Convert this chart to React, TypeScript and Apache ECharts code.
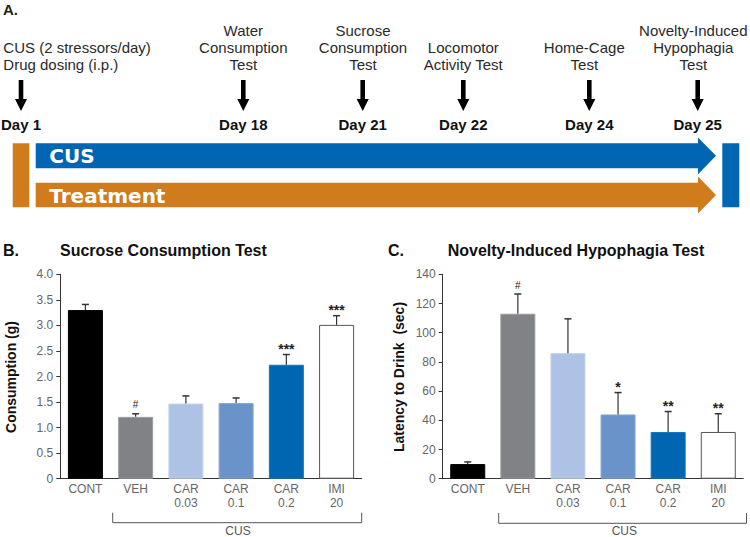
import React, { useEffect, useRef } from "react";
import * as echarts from "echarts";

// ---- Data ----
const categories = ["CONT", "VEH", "CAR\n0.03", "CAR\n0.1", "CAR\n0.2", "IMI\n20"];
const sucroseMean = [3.3, 1.21, 1.47, 1.48, 2.23, 3.01];
const sucroseSem = [0.11, 0.06, 0.15, 0.1, 0.2, 0.18];
const sucroseSig = ["", "#", "", "", "***", "***"];
const latencyMean = [10, 113, 86, 44, 32, 32];
const latencySem = [1.5, 13.5, 23.5, 15, 14, 12.5];
const latencySig = ["", "#", "", "*", "**", "**"];

const timelineLabels = [
  "CUS (2 stressors/day)\nDrug dosing (i.p.)",
  "Water\nConsumption\nTest",
  "Sucrose\nConsumption\nTest",
  "Locomotor\nActivity Test",
  "Home-Cage\nTest",
  "Novelty-Induced\nHypophagia\nTest",
];
const timelineDays = ["Day 1", "Day 18", "Day 21", "Day 22", "Day 24", "Day 25"];

// ---- Layout / style (kept apart from data) ----
const arrowX = [21, 243.3, 362.7, 463.3, 589.3, 697.7];
const labelX = [3.3, 243.3, 363, 463.3, 584.3, 693.3];
const barColors = ["#000000", "#808285", "#adc2e4", "#6a93ca", "#0066b2", "#ffffff"];
const barBorders = ["#000000", "#9a9c9e", "#c2d2ea", "#85a6d4", "#1a74b8", "#555555"];
const BLUE = "#0066b3";
const ORANGE = "#d07b1c";
const FONT = "Liberation Sans";

function downArrow(x: number) {
  return {
    type: "polygon",
    shape: {
      points: [
        [x - 2.3, 80],
        [x + 2.3, 80],
        [x + 2.3, 99],
        [x + 6, 99],
        [x, 111],
        [x - 6, 99],
        [x - 2.3, 99],
      ],
    },
    style: { fill: "#000" },
  };
}

function bigArrow(y0: number, y1: number, color: string) {
  const cy = (y0 + y1) / 2;
  const headBase = 698;
  const tip = 716;
  const half = 18.4;
  return {
    type: "polygon",
    shape: {
      points: [
        [35.7, y0],
        [headBase, y0],
        [headBase, cy - half],
        [tip, cy],
        [headBase, cy + half],
        [headBase, y1],
        [35.7, y1],
      ],
    },
    style: { fill: color },
  };
}

function errorSeries(means: number[], sems: number[], sig: string[], axisIdx: number) {
  return {
    type: "custom",
    xAxisIndex: axisIdx,
    yAxisIndex: axisIdx,
    z: 5,
    data: means.map((m, i) => [i, m + sems[i]]),
    renderItem: (params: any, api: any) => {
      const i = params.dataIndex;
      const base = api.coord([i, means[i]]);
      const top = api.coord([i, means[i] + sems[i]]);
      const isHash = sig[i] === "#";
      return {
        type: "group",
        children: [
          {
            type: "line",
            shape: { x1: base[0], y1: base[1], x2: top[0], y2: top[1] },
            style: { stroke: "#333", lineWidth: 1.2 },
          },
          {
            type: "line",
            shape: { x1: top[0] - 3.5, y1: top[1], x2: top[0] + 3.5, y2: top[1] },
            style: { stroke: "#333", lineWidth: 1.5 },
          },
          {
            type: "text",
            x: top[0],
            y: isHash ? top[1] - 4 : top[1] + 1,
            style: {
              text: sig[i],
              align: "center",
              verticalAlign: "bottom",
              font: isHash ? `10px "${FONT}"` : `bold 14px "${FONT}"`,
              fill: "#222",
            },
          },
        ],
      };
    },
  };
}

function barSeries(means: number[], axisIdx: number) {
  return {
    type: "bar",
    xAxisIndex: axisIdx,
    yAxisIndex: axisIdx,
    barWidth: 35,
    data: means.map((v, i) => ({
      value: v,
      itemStyle: { color: barColors[i], borderColor: barBorders[i], borderWidth: 1 },
    })),
  };
}

const axisLabelStyle = { color: "#666", fontSize: 12, fontFamily: FONT };

export default function App() {
  const ref = useRef<HTMLDivElement>(null);
  useEffect(() => {
    if (!ref.current) return;
    const chart = echarts.init(ref.current, undefined, { renderer: "svg" });

    const graphics: any[] = [];
    // Panel A
    graphics.push({
      type: "text",
      x: 3,
      y: 9,
      style: { text: "A.", font: `bold 15px "${FONT}"`, fill: "#222", verticalAlign: "middle" },
    });
    timelineLabels.forEach((t, i) => {
      graphics.push({
        type: "text",
        x: labelX[i],
        y: 72.5,
        style: {
          text: t,
          align: i === 0 ? "left" : "center",
          verticalAlign: "bottom",
          lineHeight: 17,
          font: `15px "${FONT}"`,
          fill: "#2a2a2a",
        },
      });
      graphics.push(downArrow(arrowX[i]));
      graphics.push({
        type: "text",
        x: arrowX[i],
        y: 124,
        style: {
          text: timelineDays[i],
          align: "center",
          verticalAlign: "middle",
          font: `bold 15px "${FONT}"`,
          fill: "#111",
        },
      });
    });
    graphics.push({ type: "rect", shape: { x: 12.7, y: 143.3, width: 16.6, height: 64 }, style: { fill: ORANGE } });
    graphics.push({ type: "rect", shape: { x: 722.3, y: 143.3, width: 17, height: 64 }, style: { fill: BLUE } });
    graphics.push(bigArrow(143.3, 168.3, BLUE));
    graphics.push(bigArrow(182.7, 207.3, ORANGE));
    graphics.push({
      type: "text",
      x: 49.3,
      y: 156,
      style: { text: "CUS", font: `bold 20px "DejaVu Sans"`, fill: "#fff", verticalAlign: "middle" },
    });
    graphics.push({
      type: "text",
      x: 49.3,
      y: 195.5,
      style: { text: "Treatment", font: `bold 20px "DejaVu Sans"`, fill: "#fff", verticalAlign: "middle" },
    });

    // Panel titles
    graphics.push({
      type: "text",
      x: 3,
      y: 250,
      style: { text: "B.", font: `bold 16px "${FONT}"`, fill: "#111", verticalAlign: "middle" },
    });
    graphics.push({
      type: "text",
      x: 60,
      y: 250,
      style: { text: "Sucrose Consumption Test", font: `bold 16px "${FONT}"`, fill: "#111", verticalAlign: "middle" },
    });
    graphics.push({
      type: "text",
      x: 388,
      y: 250.5,
      style: { text: "C.", font: `bold 16px "${FONT}"`, fill: "#111", verticalAlign: "middle" },
    });
    graphics.push({
      type: "text",
      x: 447.7,
      y: 250.5,
      style: {
        text: "Novelty-Induced Hypophagia Test",
        font: `bold 16px "${FONT}"`,
        fill: "#111",
        verticalAlign: "middle",
      },
    });
    // Y axis names
    graphics.push({
      type: "text",
      x: 10.5,
      y: 377,
      rotation: Math.PI / 2,
      style: {
        text: "Consumption (g)",
        font: `bold 14px "${FONT}"`,
        fill: "#111",
        align: "center",
        verticalAlign: "middle",
      },
    });
    graphics.push({
      type: "text",
      x: 398.5,
      y: 377,
      rotation: Math.PI / 2,
      style: {
        text: "Latency to Drink  (sec)",
        font: `bold 14px "${FONT}"`,
        fill: "#111",
        align: "center",
        verticalAlign: "middle",
      },
    });
    // CUS brackets
    graphics.push({
      type: "polyline",
      shape: { points: [[112.7, 512.7], [112.7, 522.7], [361.7, 522.7], [361.7, 512.7]] },
      style: { stroke: "#555", lineWidth: 1, fill: null },
    });
    graphics.push({
      type: "text",
      x: 238,
      y: 530.5,
      style: { text: "CUS", font: `12px "${FONT}"`, fill: "#555", align: "center", verticalAlign: "middle" },
    });
    graphics.push({
      type: "polyline",
      shape: { points: [[498.7, 513], [498.7, 523.3], [746.5, 523.3], [746.5, 513]] },
      style: { stroke: "#555", lineWidth: 1, fill: null },
    });
    graphics.push({
      type: "text",
      x: 624.3,
      y: 531,
      style: { text: "CUS", font: `12px "${FONT}"`, fill: "#555", align: "center", verticalAlign: "middle" },
    });

    const xAxisCommon = {
      type: "category",
      data: categories,
      axisTick: { show: false },
      axisLine: { lineStyle: { color: "#333", width: 1 } },
      axisLabel: { ...axisLabelStyle, lineHeight: 13.5, margin: 4, interval: 0 },
    };
    const yAxisCommon = {
      type: "value",
      min: 0,
      splitLine: { show: false },
      axisLine: { show: true, lineStyle: { color: "#333", width: 1 } },
      axisTick: { show: true, length: 4, lineStyle: { color: "#333" } },
    };

    chart.setOption({
      animation: false,
      backgroundColor: "#fff",
      grid: [
        { left: 60.3, right: 388.3, top: 274.3, bottom: 58.3 },
        { left: 442.7, right: 6.7, top: 274.3, bottom: 58.3 },
      ],
      xAxis: [
        { ...xAxisCommon, gridIndex: 0 },
        { ...xAxisCommon, gridIndex: 1 },
      ],
      yAxis: [
        {
          ...yAxisCommon,
          gridIndex: 0,
          max: 4,
          interval: 0.5,
          axisLabel: {
            ...axisLabelStyle,
            margin: 7,
            formatter: (v: number) => (v === 0 ? "0" : v.toFixed(1)),
          },
        },
        {
          ...yAxisCommon,
          gridIndex: 1,
          max: 140,
          interval: 20,
          axisLabel: { ...axisLabelStyle, margin: 7 },
        },
      ],
      series: [
        barSeries(sucroseMean, 0),
        errorSeries(sucroseMean, sucroseSem, sucroseSig, 0),
        barSeries(latencyMean, 1),
        errorSeries(latencyMean, latencySem, latencySig, 1),
      ],
      graphic: graphics,
    });

    return () => chart.dispose();
  }, []);

  return (
    <div
      ref={ref}
      style={{ position: "fixed", left: 0, top: 0, width: 750, height: 537, background: "#fff" }}
    />
  );
}
